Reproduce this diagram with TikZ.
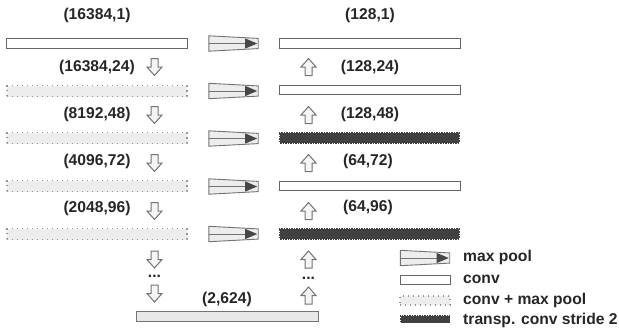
\documentclass[tikz,border=0pt]{standalone}
\usepackage{fontspec}
\setmainfont{Liberation Sans}
\newcommand\poolicon[2]{%
  \node[poolnode] (#1) at (#2) {};
  \filldraw[poolline] (#1.north west) -- ([yshift=-2.6bp]#1.north east) -- ([yshift=2.6bp]#1.south east) -- (#1.south west) -- cycle;
  \draw[poolline] (#1.west) -- ([xshift=-13bp]#1.east);
  \fill[black!72] ([xshift=-13bp,yshift=-2.6bp]#1.north east) -- ([xshift=-1bp]#1.east) -- ([xshift=-13bp,yshift=2.6bp]#1.south east) -- cycle;
}
\begin{document}
\begin{tikzpicture}[x=1bp,y=-1bp,
  lbl/.style={font=\bfseries\fontsize{15.7}{18}\selectfont, inner sep=0, text=black!85},
  leg/.style={lbl, anchor=west},
  convbar/.style={draw=black!60, fill=white, line width=1bp, minimum width=180bp, minimum height=10bp, inner sep=0},
  cmpbar/.style={draw=black!42, dash pattern=on 1.2bp off 3.8bp, line width=1.2bp, fill=black!7, minimum width=180bp, minimum height=11bp, inner sep=0},
  tbar/.style={draw=black!75, fill=black!75, line width=1.8bp, dash pattern=on 1.5bp off 1bp, minimum width=179bp, minimum height=9.5bp, inner sep=0},
  botbar/.style={draw=black!55, fill=black!9, line width=1bp, minimum width=182bp, minimum height=10bp, inner sep=0},
  poolnode/.style={minimum width=49bp, minimum height=15bp, inner sep=0},
  poolline/.style={draw=black!55, fill=black!7, line width=0.9bp},
  blockarrow/.style={draw=black!55, fill=black!4, line width=1bp, line join=miter},
  downarr/.pic={\draw[blockarrow] (-3.5,-8.5) -- (3.5,-8.5) -- (3.5,0) -- (7.5,0) -- (0,8.5) -- (-7.5,0) -- (-3.5,0) -- cycle;},
  uparr/.pic={\draw[blockarrow] (-3.5,8.5) -- (3.5,8.5) -- (3.5,0) -- (7.5,0) -- (0,-8.5) -- (-7.5,0) -- (-3.5,0) -- cycle;}
]
\path[use as bounding box] (0,0) rectangle (619,327);

% left column
\node[convbar] (l1) at (97,43) {};
\node[cmpbar] (l2) at (97,91) {};
\node[cmpbar] (l3) at (97,138) {};
\node[cmpbar] (l4) at (97,186) {};
\node[cmpbar] (l5) at (97,234) {};

% right column
\node[convbar, minimum width=181bp] (r1) at (369.5,43) {};
\node[convbar, minimum width=181bp, minimum height=9bp] (r2) at (369.5,90) {};
\node[tbar] (r3) at (369.5,138) {};
\node[convbar, minimum width=181bp, minimum height=9bp] (r4) at (369.5,186) {};
\node[tbar] (r5) at (369.5,234) {};

% max pool icons
\poolicon{p1}{233.5,43.5}
\poolicon{p2}{233.5,91}
\poolicon{p3}{233.5,138.5}
\poolicon{p4}{233.5,186.5}
\poolicon{p5}{233.5,234}

% bottom bar
\node[botbar] (bot) at (227,316) {};
\node[lbl] (tbot) at (227,299) {(2,624)};

% labels left
\node[lbl] (t1) at (97,15) {(16384,1)};
\node[lbl] (t2) at (97,67) {(16384,24)};
\node[lbl] (t3) at (97,114) {(8192,48)};
\node[lbl] (t4) at (97,161) {(4096,72)};
\node[lbl] (t5) at (97,208) {(2048,96)};

% labels right
\node[lbl] (u1) at (370,15) {(128,1)};
\node[lbl] (u2) at (370,67) {(128,24)};
\node[lbl] (u3) at (370,114) {(128,48)};
\node[lbl] (u4) at (368,161) {(64,72)};
\node[lbl] (u5) at (368,207) {(64,96)};

% down arrows
\pic (da1) at (154.5,67) {downarr};
\pic (da2) at (154.5,115) {downarr};
\pic (da3) at (154.5,163) {downarr};
\pic (da4) at (154.5,211) {downarr};
\pic (da5) at (154.5,259.5) {downarr};
\pic (da6) at (154.5,293.5) {downarr};
\node[lbl, anchor=base] (dl) at (154.5,277) {...};

% up arrows
\pic (ua1) at (308.5,67) {uparr};
\pic (ua2) at (308.5,115) {uparr};
\pic (ua3) at (308.5,163) {uparr};
\pic (ua4) at (308.5,211) {uparr};
\pic (ua5) at (308.5,259.5) {uparr};
\pic (ua6) at (308.5,295.5) {uparr};
\node[lbl, anchor=base] (dr) at (308.5,279) {...};

% legend
\poolicon{lp}{425,258}
\node[convbar, minimum width=50bp, minimum height=9bp] (lc) at (425,280) {};
\node[cmpbar, minimum width=50bp, minimum height=9bp] (lm) at (425,300.5) {};
\node[tbar, minimum width=49bp, minimum height=7bp] (lt) at (425,319) {};
\node[leg] (x1) at (463,257) {max pool};
\node[leg] (x2) at (463,279) {conv};
\node[leg] (x3) at (463,300) {conv + max pool};
\node[leg] (x4) at (463,320) {transp. conv stride 2};
\end{tikzpicture}
\end{document}
